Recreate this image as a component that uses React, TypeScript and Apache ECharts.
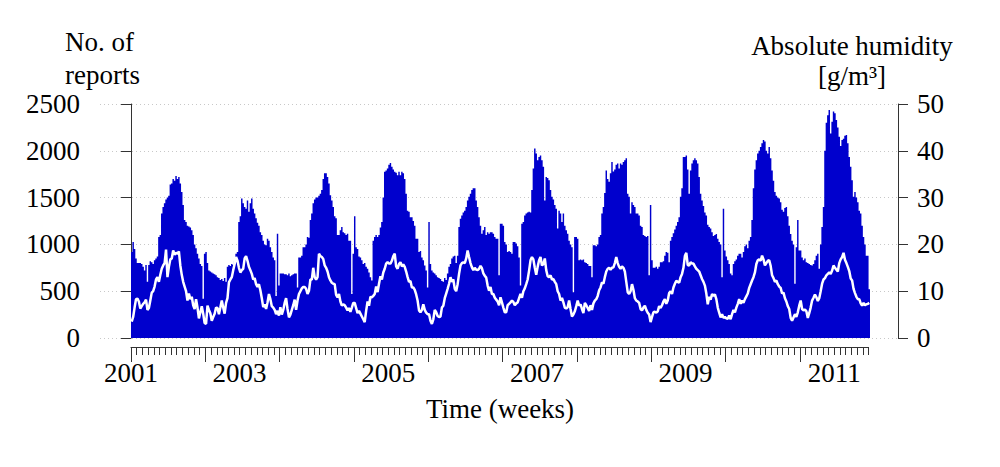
import React, { useEffect, useRef } from "react";
import * as echarts from "echarts";

// Weekly number of reports, one array per season-year (week 0 = first week of 2001)
const reports2001 = [920,1025,950,850,800,800,800,790,760,720,780,600,780,820,810,790,830,850,870,1080,1100,1330,1400,1440,1480,1500,1520,1640,1650,1700,1680,1730,1700,1720,1650,1560,1420,1260,1240,1200,1190,1180,1150,1100,1000,960,900,850,790,770,420,900];
const reports2002 = [920,800,720,710,700,690,680,670,650,640,620,630,610,640,600,760,780,770,790,780,820,900,920,1240,1300,1490,1440,1400,1380,1470,1350,1440,1490,1380,1330,1280,1230,1200,1130,1100,1040,1000,990,1060,1040,970,920,860,830,450,1115,560];
const reports2003 = [690,690,690,680,680,670,690,660,670,680,690,690,540,860,860,880,970,970,1000,1080,1070,1260,1330,1440,1480,1500,1500,1520,1540,1580,1700,1760,1760,1720,1650,1525,1470,1400,1300,1280,1100,1100,1150,1185,1130,1120,1100,1115,1040,1040,470,900];
const reports2004 = [1300,970,950,870,860,830,790,800,760,740,700,650,615,1040,1080,1100,1080,1100,1180,1240,1500,1775,1790,1810,1850,1870,1830,1800,1775,1765,1740,1775,1740,1775,1760,1700,1540,1360,1350,1290,1290,1250,1200,1060,1060,920,930,860,830,775,720,540];
const reports2005 = [1240,790,720,700,690,670,650,640,630,610,600,640,620,690,760,790,850,870,880,800,880,1185,1275,1310,1340,1360,1400,1470,1510,1540,1580,1600,1600,1470,1400,1290,1200,1115,1150,1185,1100,1130,1115,1130,1130,1115,1080,1060,1060,670,1220,1220];
const reports2006 = [1200,1025,1000,920,930,920,900,1025,1025,1010,980,860,560,1220,1240,1310,1330,1340,1350,1340,1580,1810,2025,1970,1900,1935,1950,1900,1830,1470,1720,1710,1685,1580,1510,1480,1420,1380,1170,1360,1330,1240,1330,1200,1150,1115,1040,1000,970,490,1080,1080];
const reports2007 = [1060,830,840,830,840,810,800,790,770,770,650,990,990,980,1000,1080,1100,1330,1400,1550,1790,1700,1670,1760,1880,1780,1800,1850,1865,1810,1865,1850,1880,1900,1920,1540,1510,1330,1450,1420,1400,1330,1330,1310,1200,1185,1100,1090,1080,1090,670,1420];
const reports2008 = [830,750,750,760,740,760,810,810,820,880,920,910,810,1040,1080,1120,1160,1200,1240,1290,1510,1600,1935,1935,1950,1800,1540,1790,1865,1900,1920,1900,1865,1720,1540,1470,1410,1340,1310,1210,1185,1170,1130,1090,1100,1110,1060,1025,1000,650,1380,935];
const reports2009 = [870,830,790,690,670,790,820,840,880,900,900,860,920,980,1000,960,1040,1080,1260,1600,1800,1900,1970,2000,2040,2080,2115,2100,2000,1970,2040,1920,1790,1680,1560,1520,1500,1490,1450,1370,1350,1390,1400,1300,1200,1110,1040,1000,580,970,1260,935];
const reports2010 = [935,860,830,850,810,800,790,780,775,790,830,880,900,740,1000,1185,1400,2000,2300,2380,2435,2185,2310,2420,2400,2330,2250,2150,2050,2115,2130,2160,2170,2080,1935,1830,1685,1510,1560,1500,1450,1360,1330,1200,1080,1000,880,880,520];

// Weekly absolute humidity [g/m3]
const humidity2001 = [3.5,4.5,6.5,8.3,8.4,7.8,6.3,6.8,7.3,7.6,8.2,6.0,6.4,8.0,9.7,10.0,11.0,12.5,13.0,12.0,13.5,14.8,15.5,16.0,18.9,13.0,15.2,16.8,17.0,18.7,17.8,18.2,18.0,18.5,15.5,13.5,12.0,11.0,10.0,8.0,9.5,8.3,8.8,7.0,6.2,8.3,6.5,4.2,5.5,6.8,5.2,3.2];
const humidity2002 = [3.0,6.9,6.0,5.3,3.7,4.5,5.2,6.5,6.4,5.1,6.5,8.0,6.5,5.2,7.5,8.5,11.9,12.5,13.0,14.5,15.8,17.3,16.5,15.0,14.0,14.5,14.8,17.0,17.5,16.5,15.2,14.5,13.7,12.5,12.8,11.5,10.9,11.5,10.2,8.5,6.6,7.2,6.2,7.6,9.4,8.3,6.8,6.5,6.0,5.1,5.8,4.8];
const humidity2003 = [6.6,5.0,6.0,7.5,8.5,6.2,4.4,5.0,6.0,7.0,8.2,6.0,8.0,9.4,10.0,10.6,10.9,10.9,10.5,9.4,10.1,12.5,12.5,15.0,13.0,12.5,13.0,18.0,17.5,17.3,16.9,15.5,15.0,14.2,13.0,12.3,11.8,11.6,11.5,9.2,8.7,9.4,7.8,6.9,7.2,7.0,6.5,5.9,6.4,5.6,6.5,7.5];
const humidity2004 = [7.5,6.4,5.3,5.8,5.2,4.6,4.0,3.4,5.8,7.8,6.9,8.8,8.7,9.0,9.4,11.0,9.8,11.6,13.2,12.5,14.0,14.8,15.9,16.2,15.9,15.9,16.5,17.5,18.0,15.3,14.8,15.8,16.2,15.3,15.7,15.2,14.2,13.0,12.0,12.2,10.8,10.8,10.3,9.3,8.0,5.9,5.5,6.0,7.2,6.0,5.4,5.1];
const humidity2005 = [5.1,3.7,3.0,4.0,6.0,5.5,4.7,4.5,4.6,6.5,6.9,8.5,9.5,10.5,11.6,13.0,12.0,12.5,10.5,10.0,11.5,13.7,15.5,16.0,16.2,16.0,17.0,18.7,17.3,16.0,15.1,14.5,15.0,14.6,14.5,14.8,15.4,14.9,13.8,13.3,12.9,11.2,10.1,10.9,9.4,9.4,8.6,8.2,7.8,7.0,8.7,7.6];
const humidity2006 = [6.5,5.5,5.5,7.0,7.3,7.6,8.0,7.7,7.0,7.4,7.6,8.5,9.4,8.6,10.0,10.6,11.5,12.5,14.4,16.6,17.3,16.8,15.0,13.5,15.2,16.6,17.3,15.5,15.8,17.0,14.5,13.2,13.0,13.4,12.5,12.6,12.0,11.5,10.0,9.4,8.0,8.6,7.6,6.5,6.3,6.6,8.0,6.2,4.6,5.0,5.7,6.8];
const humidity2007 = [8.0,6.9,7.2,6.2,5.3,7.5,7.0,6.4,5.8,7.0,6.0,7.4,8.0,8.3,9.0,10.2,10.8,11.9,11.6,13.0,14.2,14.8,15.0,14.6,15.0,15.1,16.0,17.3,16.0,15.2,14.8,15.3,15.0,14.2,12.0,9.8,9.4,10.0,11.5,10.3,8.5,8.0,7.8,7.5,6.2,5.9,6.5,6.9,6.0,5.4,5.0,3.4];
const humidity2008 = [4.5,5.5,5.6,5.4,5.7,6.8,6.4,7.0,7.8,8.3,7.3,8.0,9.6,10.0,9.4,10.8,11.6,12.2,12.0,11.8,13.0,13.7,15.0,17.5,18.2,15.6,15.5,16.2,15.9,15.9,15.3,14.8,14.5,14.2,13.4,12.6,12.0,11.2,9.5,7.2,8.8,8.2,9.4,9.0,9.3,8.3,6.5,5.4,4.4,5.1,4.3,4.5];
const humidity2009 = [4.2,4.1,4.8,4.0,5.1,6.0,5.5,6.5,7.3,8.3,7.3,8.0,7.5,8.3,8.9,9.5,10.7,11.5,12.3,13.0,14.0,15.8,16.6,16.8,16.5,17.6,16.8,15.5,16.0,16.5,16.6,15.4,13.4,12.8,12.0,12.3,11.5,11.0,10.7,9.5,9.7,8.5,7.8,6.8,6.2,4.3,3.7,4.4,5.1,4.5,5.5,6.9];
const humidity2010 = [8.0,6.2,5.9,6.1,5.7,4.3,5.3,6.5,8.0,8.6,9.3,8.7,7.9,8.5,10.0,11.6,12.5,12.8,13.4,13.7,14.0,13.7,14.4,15.5,15.0,14.6,14.2,16.0,16.8,17.3,18.2,16.7,16.0,15.2,14.3,12.7,12.3,10.5,9.6,8.8,8.3,8.3,7.4,6.9,7.5,7.0,7.2,7.3,7.5];

// Axis labels
const yearLabels = ["2001", "2003", "2005", "2007", "2009", "2011"];
const yearLabelWeeks = [0, 76, 180, 284, 388, 492];

const FONT = "'Liberation Serif', 'DejaVu Serif', serif";
const AXIS_COLOR = "#333333";

export default function App() {
  const ref = useRef<HTMLDivElement>(null);

  useEffect(() => {
    document.body.style.margin = "0";
    if (!ref.current) return;
    const chart = echarts.init(ref.current, null, { renderer: "svg" });

    const reports = [
      ...reports2001, ...reports2002, ...reports2003, ...reports2004, ...reports2005,
      ...reports2006, ...reports2007, ...reports2008, ...reports2009, ...reports2010,
    ];
    const humidity = [
      ...humidity2001, ...humidity2002, ...humidity2003, ...humidity2004, ...humidity2005,
      ...humidity2006, ...humidity2007, ...humidity2008, ...humidity2009, ...humidity2010,
    ];
    const barData = reports.map((v, i) => [i + 0.5, v]);
    const lineData = humidity.map((v, i) => [i + 0.5, v]);

    const lastTick = reports.length - 1;
    const minorTicks: number[] = [];
    for (let w = 0; w <= lastTick; w += 4) minorTicks.push(w);
    const majorTicks: number[] = [];
    for (let w = 0; w <= lastTick; w += 52) majorTicks.push(w);

    const axisLineStyle = { color: AXIS_COLOR, width: 1 };
    const labelStyle = { fontFamily: FONT, fontSize: 27, color: "#000" };
    const plain = (v: number) => String(v);

    const option: any = {
      animation: false,
      textStyle: { fontFamily: FONT },
      grid: [
        { left: 100, right: 102, top: 104, bottom: 129 },
        { left: 131, right: 131.5, top: 104, bottom: 129 },
      ],
      xAxis: [
        { type: "value", gridIndex: 0, min: -21.7, max: 536.6, show: false },
        {
          type: "value", gridIndex: 1, position: "bottom", min: 0, max: lastTick, offset: 9,
          axisLine: { show: true, onZero: false, lineStyle: axisLineStyle },
          axisTick: { show: true, length: 8, customValues: minorTicks, lineStyle: axisLineStyle },
          axisLabel: { show: false }, splitLine: { show: false },
        },
        {
          type: "value", gridIndex: 1, position: "bottom", min: 0, max: lastTick, offset: 9,
          axisLine: { show: false, onZero: false },
          axisTick: { show: true, length: 15, customValues: majorTicks, lineStyle: axisLineStyle },
          axisLabel: { show: false }, splitLine: { show: false },
        },
        {
          type: "value", gridIndex: 1, position: "bottom", min: 0, max: lastTick, offset: 9,
          axisLine: { show: false, onZero: false },
          axisTick: { show: false },
          axisLabel: {
            show: true, margin: 12, customValues: yearLabelWeeks, ...labelStyle,
            formatter: (v: number) => {
              const i = yearLabelWeeks.indexOf(Math.round(v));
              return i >= 0 ? yearLabels[i] : "";
            },
          },
          splitLine: { show: false },
        },
      ],
      yAxis: [
        {
          type: "value", gridIndex: 0, position: "left", min: 0, max: 2500, interval: 500,
          axisLine: { show: true, lineStyle: axisLineStyle },
          axisTick: { show: true, length: 10, lineStyle: axisLineStyle },
          axisLabel: { margin: 20, formatter: plain, ...labelStyle },
          splitLine: { show: true, lineStyle: { color: "#c8c8c8", type: [1, 3], width: 1 } },
        },
        {
          type: "value", gridIndex: 0, position: "right", min: 0, max: 50, interval: 10,
          axisLine: { show: true, lineStyle: axisLineStyle },
          axisTick: { show: true, length: 10, lineStyle: axisLineStyle },
          axisLabel: { margin: 19, formatter: plain, ...labelStyle },
          splitLine: { show: false },
        },
        { type: "value", gridIndex: 1, min: 0, max: 1, show: false },
      ],
      series: [
        {
          name: "No. of reports", type: "bar", xAxisIndex: 0, yAxisIndex: 0,
          data: barData, barWidth: 1.45, large: true, largeThreshold: 100,
          itemStyle: { color: "#0000CD" }, z: 2, silent: true,
        },
        {
          name: "Absolute humidity", type: "line", xAxisIndex: 0, yAxisIndex: 1,
          data: lineData, symbol: "none", showSymbol: false,
          lineStyle: { color: "#ffffff", width: 2.5 }, z: 3, silent: true,
        },
      ],
      graphic: [
        { type: "text", x: 65, y: 58.25, style: { text: "No. of\nreports", fontFamily: FONT, fontSize: 27, lineHeight: 32.5, fill: "#000", align: "left", verticalAlign: "middle" } },
        { type: "text", x: 852, y: 61, style: { text: "Absolute humidity\n[g/m³]", fontFamily: FONT, fontSize: 27, lineHeight: 30, fill: "#000", align: "center", verticalAlign: "middle" } },
        { type: "text", x: 500, y: 409, style: { text: "Time (weeks)", fontFamily: FONT, fontSize: 27, fill: "#000", align: "center", verticalAlign: "middle" } },
      ],
    };

    chart.setOption(option);
    return () => chart.dispose();
  }, []);

  return <div ref={ref} style={{ width: 1000, height: 467 }} />;
}
